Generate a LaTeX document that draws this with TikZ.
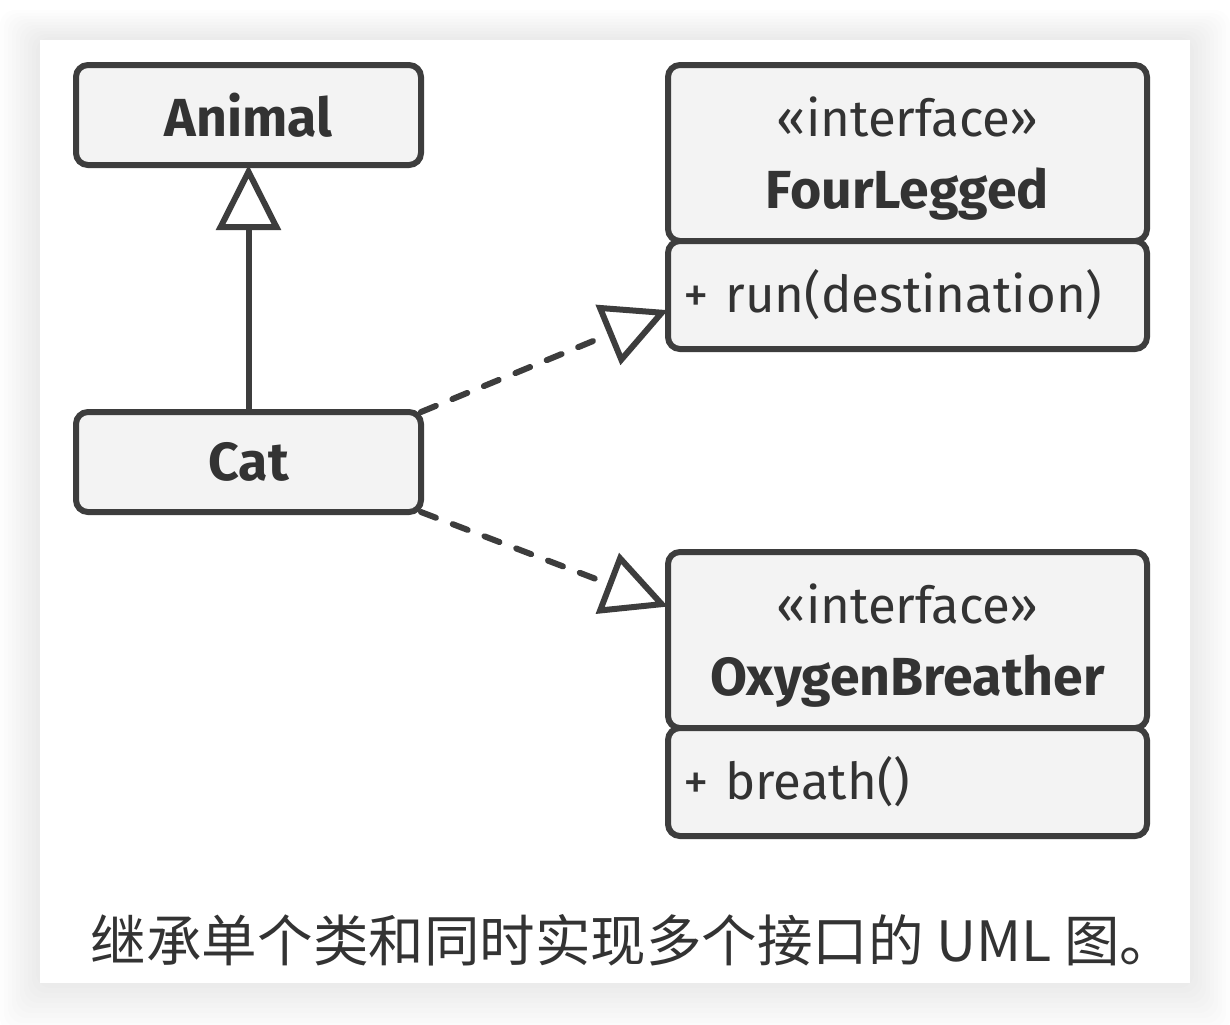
\documentclass[tikz,border=0pt]{standalone}
\usepackage{fontspec}
\setmainfont{Fira Sans}
\newfontfamily\cjk{Noto Sans CJK SC}
\usetikzlibrary{arrows.meta, positioning, calc}
\definecolor{umlline}{RGB}{61,61,61}
\definecolor{umlfill}{RGB}{243,243,243}
\definecolor{umltext}{RGB}{51,51,51}

\begin{document}
\begin{tikzpicture}[
      cls/.style={rectangle, rounded corners=0.24cm, draw=umlline, fill=umlfill,
                  line width=0.12cm, minimum width=6.9cm, minimum height=2.0cm,
                  inner sep=0pt, outer sep=0pt, text=umltext,
                  font=\fontsize{30.5}{34}\selectfont\bfseries},
      ifhead/.style={rectangle, rounded corners=0.24cm, draw=umlline, fill=umlfill,
                  line width=0.12cm, minimum width=9.58cm, minimum height=3.52cm,
                  inner sep=0pt, outer sep=0pt, text=umltext, align=center,
                  font=\fontsize{29}{41}\selectfont},
      ifbody/.style={rectangle, rounded corners=0.24cm, draw=umlline, fill=umlfill,
                  line width=0.12cm, minimum width=9.58cm, minimum height=2.16cm,
                  inner xsep=0.3cm, outer sep=0pt, text width=8.98cm, align=left,
                  text=umltext, font=\fontsize{29}{33}\selectfont},
      inherit/.style={line width=0.12cm, draw=umlline,
                  -{Triangle[fill=white, length=1.3cm, width=1.28cm]}},
      realize/.style={inherit, line cap=round, dash pattern=on 0.32cm off 0.36cm}
    ]
    \useasboundingbox (0,0) rectangle (24.6,-20.48);
    \fill[white] (0,0) rectangle (24.6,-20.48);
    % soft shadow of the card
    \foreach \i in {1,...,10}
      \fill[black, opacity=0.006, rounded corners=0.3cm]
        ($(0.8,-0.8)+(-0.08*\i,0.06*\i)$) rectangle ($(23.8,-19.66)+(0.08*\i,-0.1*\i)$);
    \fill[white] (0.8,-0.8) rectangle (23.8,-19.66);

    \node[cls] (clsAnimal) at (4.97,-2.30) {Animal};
    \node[cls, below=4.94cm of clsAnimal] (clsCat) {Cat};

    \node[ifhead, anchor=north west] (flHead) at ($(clsAnimal.north east)+(4.94,0)$)
      {«interface»\rule{0pt}{1cm}\\{\fontsize{30.5}{41}\selectfont\bfseries FourLegged}};
    \node[ifbody, below=0pt of flHead] (flBody) {+ run(destination)};

    \node[ifhead, below=4.06cm of flBody] (oxHead)
      {«interface»\rule{0pt}{1cm}\\{\fontsize{30.5}{41}\selectfont\bfseries OxygenBreather}};
    \node[ifbody, below=0pt of oxHead] (oxBody) {+ breath()};

    \coordinate (flTip) at ($(flBody.south west)!0.36!(flBody.north west)$);
    \coordinate (oxTip) at ($(oxHead.north west)!0.31!(oxHead.south west)$);

    \draw[inherit] (clsCat.north) -- (clsAnimal.south);
    \draw[realize] (clsCat.north east) -- (flTip);
    \draw[realize] (clsCat.south east) -- (oxTip);

    \node[text=umltext, font=\cjk\fontsize{31.6}{36}\selectfont] (caption) at (12.66,-18.8)
      {继承单个类和同时实现多个接口的 UML 图。};
  \end{tikzpicture}
\end{document}
